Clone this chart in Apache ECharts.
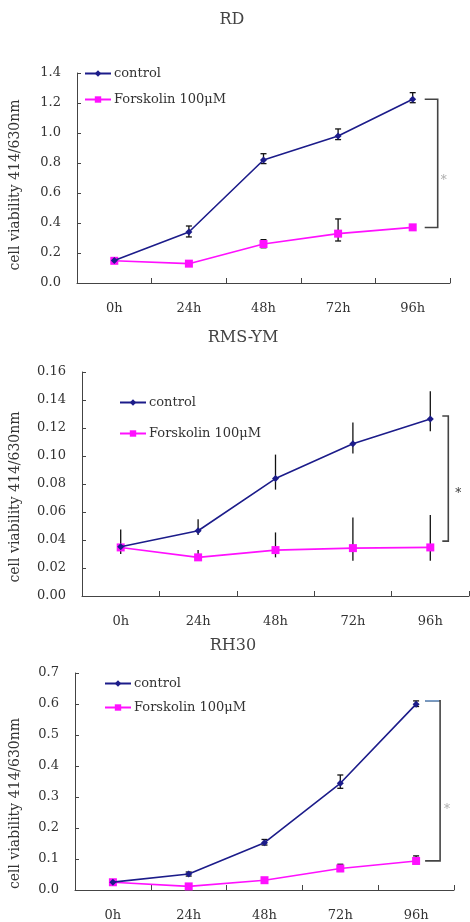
<!DOCTYPE html>
<html>
<head>
<meta charset="utf-8">
<script src="https://cdn.jsdelivr.net/npm/echarts@6/dist/echarts.min.js"></script>
<style>
html,body{margin:0;padding:0;background:#fff;}
#main{width:470px;height:922px;}
</style>
</head>
<body>
<div id="main"></div>
<script>
// ---------- data ----------
const categories = ['0h', '24h', '48h', '72h', '96h'];
const chartTitles = ['RD', 'RMS-YM', 'RH30'];
const seriesNames = ['control', 'Forskolin 100μM'];
const yAxisName = 'cell viability 414/630nm';

// RD
const rdControl   = [0.150, 0.340, 0.820, 0.980, 1.225];
const rdControlHi = [0.150, 0.380, 0.862, 1.027, 1.269];
const rdControlLo = [0.150, 0.307, 0.796, 0.956, 1.202];
const rdForsk     = [0.148, 0.129, 0.260, 0.329, 0.371];
const rdForskHi   = [0.148, 0.129, 0.289, 0.427, 0.380];
const rdForskLo   = [0.148, 0.129, 0.235, 0.280, 0.365];
const rdBracket   = [1.225, 0.370, 0.684]; // top, bottom, asterisk level

// RMS-YM
const ymControl   = [0.0352, 0.0466, 0.0839, 0.1087, 0.1265];
const ymControlHi = [0.0475, 0.0549, 0.1010, 0.1239, 0.1462];
const ymControlLo = [0.0300, 0.0435, 0.0760, 0.1018, 0.1177];
const ymForsk     = [0.0347, 0.0276, 0.0328, 0.0342, 0.0347];
const ymForskHi   = [0.0347, 0.0328, 0.0454, 0.0561, 0.0578];
const ymForskLo   = [0.0347, 0.0276, 0.0276, 0.0252, 0.0252];
const ymBracket   = [0.1286, 0.0392, 0.0732];

// RH30
const rhControl   = [0.0253, 0.0516, 0.1526, 0.3442, 0.5995];
const rhControlHi = [0.0300, 0.0580, 0.1630, 0.3710, 0.6100];
const rhControlLo = [0.0200, 0.0450, 0.1450, 0.3280, 0.5920];
const rhForsk     = [0.0250, 0.0116, 0.0316, 0.0695, 0.0937];
const rhForskHi   = [0.0300, 0.0116, 0.0316, 0.0830, 0.1100];
const rhForskLo   = [0.0200, 0.0116, 0.0316, 0.0600, 0.0850];
const rhBracket   = [0.610, 0.094, 0.260];

// y axis ranges
const yMax = [1.4, 0.16, 0.7];
const yInterval = [0.2, 0.02, 0.1];
const yDecimals = [1, 2, 1];

// ---------- styling / layout ----------
const FONT = 'DejaVu Serif';
const TXT = '#333';
const AXIS = '#444';
const NAVY = '#1c1c8a';
const MAG = '#ff10ff';

const grids = [
  {left: 73, top: 73, width: 377, height: 210},
  {left: 75, top: 372, width: 394, height: 224},
  {left: 70, top: 673, width: 384, height: 222}
];
const titleTops = [12, 330, 638];
const titleCenters = [232, 243, 233];
const legendPos = [
  {left: 84, top: 67, gap: 13},
  {left: 119, top: 396, gap: 18},
  {left: 104, top: 677, gap: 11}
];
const nameGaps = [55, 60, 53];
const namePadRight = [14, 26, 44];
const capHalf = [3, 0, 3];
const bracketOff = [[12, 25], [12, 18], [9, 24]];
const starOff = [6, 10, 7];
const starColor = ['#aaa', '#333', '#aaa'];
const bracketTopColor = [null, null, '#7fa6d6'];

const datasets = [
  {c: rdControl, cHi: rdControlHi, cLo: rdControlLo, f: rdForsk, fHi: rdForskHi, fLo: rdForskLo, br: rdBracket},
  {c: ymControl, cHi: ymControlHi, cLo: ymControlLo, f: ymForsk, fHi: ymForskHi, fLo: ymForskLo, br: ymBracket},
  {c: rhControl, cHi: rhControlHi, cLo: rhControlLo, f: rhForsk, fHi: rhForskHi, fLo: rhForskLo, br: rhBracket}
];

function errRenderer(cap) {
  return function (params, api) {
    const i = api.value(0);
    const lo = api.coord([i, api.value(1)]);
    const hi = api.coord([i, api.value(2)]);
    const style = {stroke: '#111', lineWidth: 1.3};
    const children = [{type: 'line', shape: {x1: lo[0], y1: lo[1], x2: hi[0], y2: hi[1]}, style}];
    if (cap > 0 && Math.abs(lo[1] - hi[1]) > 1) {
      children.push({type: 'line', shape: {x1: hi[0] - cap, y1: hi[1], x2: hi[0] + cap, y2: hi[1]}, style});
      children.push({type: 'line', shape: {x1: lo[0] - cap, y1: lo[1], x2: lo[0] + cap, y2: lo[1]}, style});
    }
    return {type: 'group', children};
  };
}

function bracketRenderer(k) {
  return function (params, api) {
    const i = api.value(0);
    const t = api.coord([i, api.value(1)]);
    const b = api.coord([i, api.value(2)]);
    const s = api.coord([i, api.value(3)]);
    const a = t[0] + bracketOff[k][0], c = t[0] + bracketOff[k][1];
    const children = [{
      type: 'polyline',
      shape: {points: [[a, t[1]], [c, t[1]], [c, b[1]], [a, b[1]]]},
      style: {stroke: '#444', lineWidth: 1.6, fill: null}
    }];
    if (bracketTopColor[k]) {
      children.push({type: 'line', shape: {x1: a, y1: t[1], x2: c - 1, y2: t[1]},
        style: {stroke: bracketTopColor[k], lineWidth: 1.6}});
    }
    children.push({
      type: 'text',
      style: {text: '*', x: c + starOff[k], y: s[1], fill: starColor[k],
        font: '12px ' + FONT, textAlign: 'center', textVerticalAlign: 'middle'}
    });
    return {type: 'group', children};
  };
}

const option = {
  animation: false,
  backgroundColor: '#fff',
  title: chartTitles.map((t, k) => ({
    text: t, left: titleCenters[k], top: titleTops[k], textAlign: 'center', padding: 0,
    textStyle: {fontFamily: FONT, fontSize: 16, fontWeight: 'normal', color: '#444'}
  })),
  legend: legendPos.map((p, k) => ({
    orient: 'vertical', left: p.left, top: p.top, itemGap: p.gap,
    itemWidth: 26, itemHeight: 8, padding: 0,
    data: seriesNames,
    textStyle: {fontFamily: FONT, fontSize: 13, color: TXT, padding: [0, 0, 0, -2]}
  })),
  grid: grids,
  xAxis: grids.map((g, k) => ({
    type: 'category', gridIndex: k, data: categories, boundaryGap: true,
    axisLine: {lineStyle: {color: AXIS, width: 1}},
    axisTick: {show: true, inside: true, length: 5, alignWithLabel: false, lineStyle: {color: AXIS}},
    axisLabel: {fontFamily: FONT, fontSize: 13, color: TXT, margin: 19},
    splitLine: {show: false}
  })),
  yAxis: grids.map((g, k) => ({
    type: 'value', gridIndex: k, min: 0, max: yMax[k], interval: yInterval[k],
    name: yAxisName, nameLocation: 'middle', nameGap: nameGaps[k], nameRotate: 90,
    nameTextStyle: {fontFamily: FONT, fontSize: 14, color: TXT, padding: [0, namePadRight[k], 0, 0]},
    axisLine: {show: true, lineStyle: {color: AXIS, width: 1}},
    axisTick: {show: true, inside: true, length: 4, lineStyle: {color: AXIS}},
    axisLabel: {fontFamily: FONT, fontSize: 13, color: TXT, margin: 16,
      formatter: v => v.toFixed(yDecimals[k])},
    splitLine: {show: false}
  })),
  series: []
};

datasets.forEach((d, k) => {
  option.series.push({
    type: 'custom', xAxisIndex: k, yAxisIndex: k, z: 1, silent: true,
    renderItem: errRenderer(capHalf[k]),
    data: categories.map((_, i) => [i, d.cLo[i], d.cHi[i]])
  });
  option.series.push({
    type: 'custom', xAxisIndex: k, yAxisIndex: k, z: 1, silent: true,
    renderItem: errRenderer(capHalf[k]),
    data: categories.map((_, i) => [i, d.fLo[i], d.fHi[i]])
  });
  option.series.push({
    name: seriesNames[0], type: 'line', xAxisIndex: k, yAxisIndex: k, z: 3,
    data: d.c, symbol: 'diamond', symbolSize: 7,
    lineStyle: {color: NAVY, width: 1.6}, itemStyle: {color: NAVY}
  });
  option.series.push({
    name: seriesNames[1], type: 'line', xAxisIndex: k, yAxisIndex: k, z: 2,
    data: d.f, symbol: 'rect', symbolSize: 8,
    lineStyle: {color: MAG, width: 1.6}, itemStyle: {color: MAG}
  });
  option.series.push({
    type: 'custom', xAxisIndex: k, yAxisIndex: k, z: 4, silent: true, clip: false,
    renderItem: bracketRenderer(k),
    data: [[categories.length - 1, d.br[0], d.br[1], d.br[2]]]
  });
});

const chart = echarts.init(document.getElementById('main'), null, {renderer: 'canvas'});
chart.setOption(option);
</script>
</body>
</html>
